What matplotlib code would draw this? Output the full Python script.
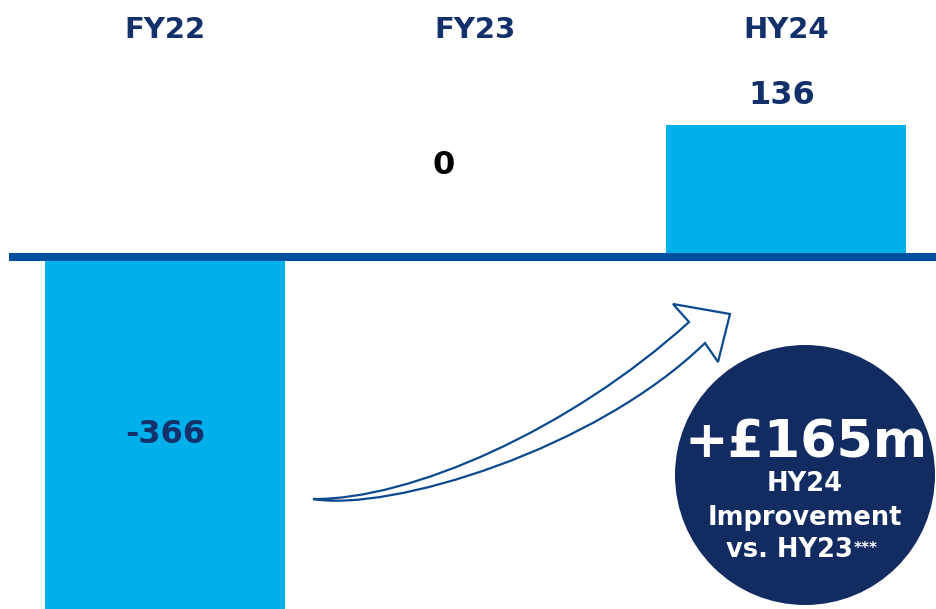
import matplotlib
matplotlib.use("Agg")
import matplotlib.pyplot as plt
from matplotlib.patches import Circle, PathPatch
from matplotlib.path import Path

# ---- data ----
categories = ["FY22", "FY23", "HY24"]
values = [-366, 0, 136]
value_labels = ["-366", "0", "136"]
badge_value = "+£165m"
badge_lines = ["HY24", "Improvement", "vs. HY23"]
badge_sup = "***"

# ---- style ----
CYAN = "#00B0EA"
NAVY = "#13306B"
BASE = "#0050A0"
CIRCLE = "#122B61"
ARROW = "#0B4A8E"
FONT = "DejaVu Sans"

W, H = 936, 609
fig = plt.figure(figsize=(W / 100, H / 100), dpi=100)
fig.patch.set_facecolor("white")

ax = fig.add_axes([0, 0, 1, 1])
ax.set_axis_off()
x = list(range(len(categories)))
px_per_cat = 310.5
c0 = 165.0
ax.set_xlim(-c0 / px_per_cat, (W - c0) / px_per_cat)
zero_px, px_per_unit = 257.0, 0.97
ax.set_ylim(-(H - zero_px) / px_per_unit, zero_px / px_per_unit)

ax.bar(x, values, width=240 / px_per_cat, color=CYAN, zorder=2)
ax.axhline(0, xmin=9 / W, xmax=1, color=BASE, lw=8 * 0.72, zorder=3,
           solid_capstyle="butt")

# category labels at top
for i, c in enumerate(categories):
    ax.text(i, 1 - 38 / H, c, transform=ax.get_xaxis_transform(),
            ha="center", va="baseline", fontsize=21, fontweight="bold",
            color=NAVY, family=FONT)

# value labels
for i, (v, lab) in enumerate(zip(values, value_labels)):
    if v > 0:
        ax.annotate(lab, (i, v), xytext=(-4, 14), textcoords="offset pixels",
                    ha="center", va="bottom", fontsize=23, fontweight="bold",
                    color=NAVY, family=FONT)
    elif v < 0:
        ax.text(i, v / 2, lab, ha="center", va="center", fontsize=23,
                fontweight="bold", color=NAVY, family=FONT)
    else:
        ax.annotate(lab, (i, v), xytext=(-32, 91), textcoords="offset pixels",
                    ha="center", va="center", fontsize=23, fontweight="bold",
                    color="black", family=FONT)

# ---- decoration overlay in pixel coordinates ----
ov = fig.add_axes([0, 0, 1, 1])
ov.set_axis_off()
ov.set_xlim(0, W)
ov.set_ylim(H, 0)
ov.patch.set_alpha(0)

verts = [
    (313, 499), (410, 500), (570, 430), (689, 322),
    (673, 304), (730, 314), (718, 362), (705, 343),
    (595, 450), (390, 512), (313, 499), (313, 499),
]
codes = [Path.MOVETO, Path.CURVE4, Path.CURVE4, Path.CURVE4,
         Path.LINETO, Path.LINETO, Path.LINETO, Path.LINETO,
         Path.CURVE4, Path.CURVE4, Path.CURVE4, Path.CLOSEPOLY]
ov.add_patch(PathPatch(Path(verts, codes), facecolor="white",
                       edgecolor=ARROW, lw=1.6, zorder=4))

ov.add_patch(Circle((805, 475), 130, facecolor=CIRCLE, edgecolor="none", zorder=5))
ov.text(806, 457, badge_value, ha="center", va="baseline", fontsize=37.5,
        fontweight="bold", color="white", family=FONT, zorder=6)
ov.text(805, 491, badge_lines[0], ha="center", va="baseline", fontsize=18.5,
        fontweight="bold", color="white", family=FONT, zorder=6)
ov.text(805, 525, badge_lines[1], ha="center", va="baseline", fontsize=18.5,
        fontweight="bold", color="white", family=FONT, zorder=6)
ov.text(853, 557, badge_lines[2], ha="right", va="baseline", fontsize=18.5,
        fontweight="bold", color="white", family=FONT, zorder=6)
ov.text(854, 541, badge_sup, ha="left", va="top", fontsize=11,
        fontweight="bold", color="white", family=FONT, zorder=6)

fig.savefig("out.png", dpi=100, facecolor="white")
